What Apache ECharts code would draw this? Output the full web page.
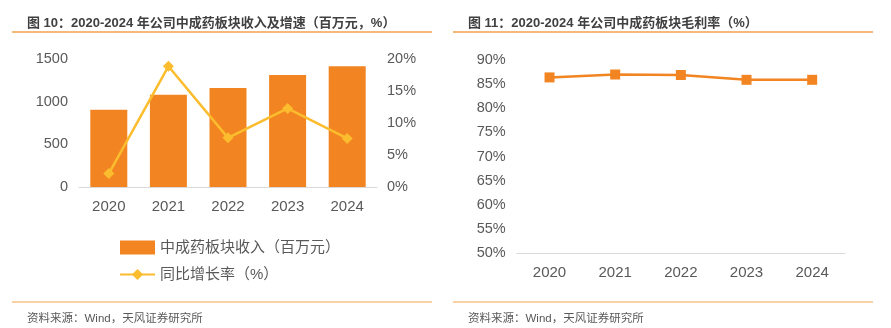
<!DOCTYPE html>
<html><head><meta charset="utf-8">
<script src="https://cdn.jsdelivr.net/npm/echarts@6/dist/echarts.min.js"></script>
<style>html,body{margin:0;padding:0;background:#fff}#c{width:891px;height:328px}</style>
</head><body><div id="c"></div>
<script>
var years = ['2020','2021','2022','2023','2024'];
var revenue = [908, 1084, 1163, 1315, 1418];
var growth = [0.021, 0.189, 0.077, 0.123, 0.076];
var grossMargin = [0.864, 0.870, 0.869, 0.859, 0.859];
var leftTicks = [0, 500, 1000, 1500];
var rightTicks = [0, 0.05, 0.10, 0.15, 0.20];
var marginTicks = [0.50, 0.55, 0.60, 0.65, 0.70, 0.75, 0.80, 0.85, 0.90];

var FONT = '"Liberation Sans", Arial, "Noto Sans CJK SC", sans-serif';
var chart = echarts.init(document.getElementById('c'), null, {renderer:'canvas'});
var pct = function(v){ return Math.round(v*100) + '%'; };
var plain = function(v){ return String(v); };
var lineColor = '#F5A24C';
chart.setOption({
  backgroundColor: '#fff',
  textStyle: {fontFamily: FONT},
  animation: false,
  title: [
    {text: '图 10：2020-2024 年公司中成药板块收入及增速（百万元，%）', left: 22, top: 12,
     textStyle:{fontSize:13, fontWeight:'bold', color:'#404040', fontFamily: FONT}},
    {text: '图 11：2020-2024 年公司中成药板块毛利率（%）', left: 463, top: 12,
     textStyle:{fontSize:13, fontWeight:'bold', color:'#404040', fontFamily: FONT}},
    {text: '资料来源：Wind，天风证券研究所', left: 22, top: 308,
     textStyle:{fontSize:11.5, fontWeight:'normal', color:'#595959', fontFamily: FONT}},
    {text: '资料来源：Wind，天风证券研究所', left: 463, top: 308,
     textStyle:{fontSize:11.5, fontWeight:'normal', color:'#595959', fontFamily: FONT}}
  ],
  graphic: [
    {type:'line', shape:{x1:12,y1:32,x2:432,y2:32}, style:{stroke:lineColor, lineWidth:1.5}},
    {type:'line', shape:{x1:453,y1:32,x2:873,y2:32}, style:{stroke:lineColor, lineWidth:1.5}},
    {type:'line', shape:{x1:12,y1:302,x2:432,y2:302}, style:{stroke:lineColor, lineWidth:1.2}},
    {type:'line', shape:{x1:453,y1:302,x2:873,y2:302}, style:{stroke:lineColor, lineWidth:1.2}}
  ],
  legend: {
    orient: 'vertical', left: 114, top: 235, itemGap: 12, itemWidth: 35, itemHeight: 14,
    textStyle: {fontSize: 15, color:'#595959', fontFamily: FONT},
    data: [{name:'中成药板块收入（百万元）', icon:'rect'}, '同比增长率（%）']
  },
  grid: [
    {left: 79, right: 514, top: 59.3, bottom: 141},
    {left: 516.7, right: 46, top: 60, bottom: 74.7}
  ],
  xAxis: [
    {type:'category', gridIndex:0, data: years,
     axisLine:{lineStyle:{color:'#D9D9D9'}}, axisTick:{show:false},
     axisLabel:{fontSize:15, color:'#595959', margin:12}},
    {type:'category', gridIndex:1, data: years,
     axisLine:{lineStyle:{color:'#D9D9D9'}}, axisTick:{show:false},
     axisLabel:{fontSize:15, color:'#595959', margin:12}}
  ],
  yAxis: [
    {type:'value', gridIndex:0, min:leftTicks[0], max:leftTicks[leftTicks.length-1], interval:500,
     splitLine:{show:false}, axisLine:{show:false}, axisTick:{show:false},
     axisLabel:{fontSize:14.5, color:'#595959', margin:11, formatter:plain}},
    {type:'value', gridIndex:0, position:'right', min:rightTicks[0], max:rightTicks[rightTicks.length-1], interval:0.05,
     splitLine:{show:false}, axisLine:{show:false}, axisTick:{show:false},
     axisLabel:{fontSize:14.5, color:'#595959', margin:10, formatter:pct}},
    {type:'value', gridIndex:1, min:marginTicks[0], max:marginTicks[marginTicks.length-1], interval:0.05,
     splitLine:{show:false}, axisLine:{show:false}, axisTick:{show:false},
     axisLabel:{fontSize:14.5, color:'#595959', margin:11, formatter:pct}}
  ],
  series: [
    {name:'中成药板块收入（百万元）', type:'bar', xAxisIndex:0, yAxisIndex:0, data: revenue,
     barWidth: 37, itemStyle:{color:'#F28522'}},
    {name:'同比增长率（%）', type:'line', xAxisIndex:0, yAxisIndex:1, data: growth,
     symbol:'diamond', symbolSize:11, lineStyle:{color:'#FBBC2E', width:2.5},
     itemStyle:{color:'#FBBC2E'}},
    {name:'毛利率', type:'line', xAxisIndex:1, yAxisIndex:2, data: grossMargin,
     symbol:'rect', symbolSize:10, lineStyle:{color:'#F28522', width:2.5},
     itemStyle:{color:'#F28522'}}
  ]
});
</script></body></html>
